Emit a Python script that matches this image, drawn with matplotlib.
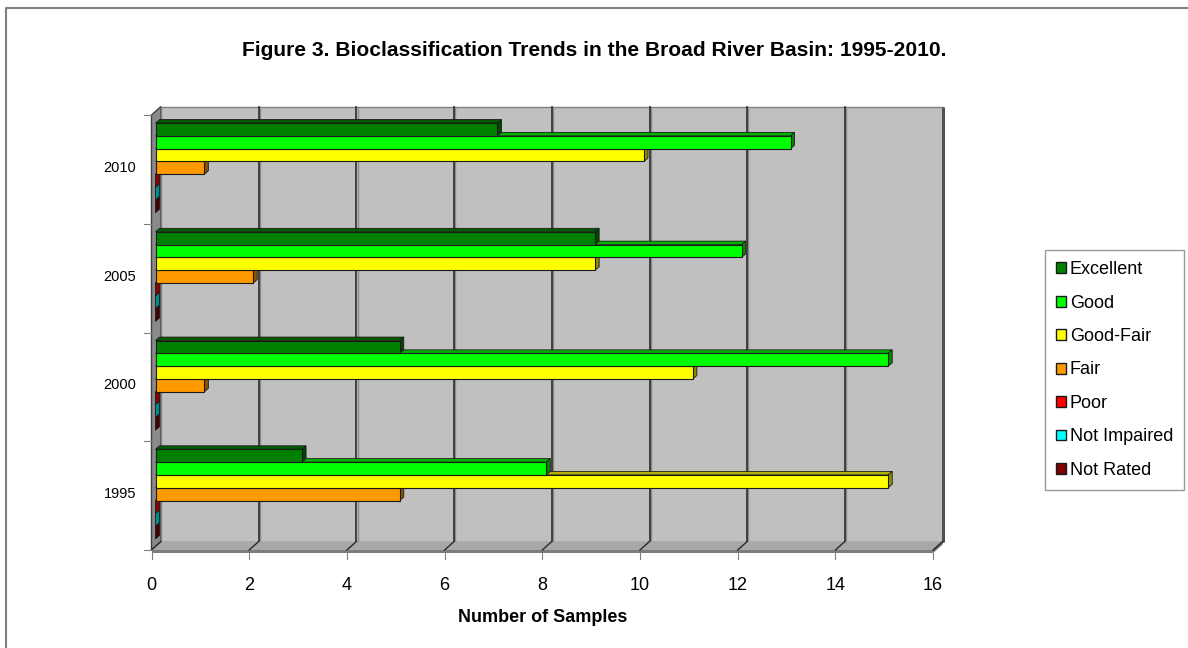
import matplotlib
matplotlib.use("Agg")
import matplotlib.pyplot as plt
from matplotlib.patches import Polygon, Rectangle, Patch
from matplotlib.lines import Line2D
from matplotlib.colors import to_rgb

# ---- data -------------------------------------------------------------
years = ["1995", "2000", "2005", "2010"]
series = ["Excellent", "Good", "Good-Fair", "Fair", "Poor", "Not Impaired", "Not Rated"]
excellent = [3, 5, 9, 7]
good = [8, 15, 12, 13]
good_fair = [15, 11, 9, 10]
fair = [5, 1, 2, 1]
poor = [0, 0, 0, 0]
not_impaired = [0, 0, 0, 0]
not_rated = [0, 0, 0, 0]
values = [excellent, good, good_fair, fair, poor, not_impaired, not_rated]
colors = ["#008000", "#00FF00", "#FFFF00", "#FF9900", "#FF0000", "#00FFFF", "#800000"]
x_ticks = [0, 2, 4, 6, 8, 10, 12, 14, 16]
x_max = 16

plt.rcParams["font.family"] = ["Liberation Sans", "DejaVu Sans"]

W, H = 1188, 648
fig = plt.figure(figsize=(W / 100, H / 100), dpi=100)
fig.patch.set_facecolor("white")

# pixel frame of the plotting box
ax_l, ax_r, ax_t, ax_b = 130, 960, 95, 565
x0_px, unit_px = 151.5, 48.85        # x=0 position and pixels per sample
front_bottom_px, cat_px = 550, 108.75  # front floor edge and pixels per year

ax = fig.add_axes([ax_l / W, 1 - ax_b / H, (ax_r - ax_l) / W, (ax_b - ax_t) / H])
ax.set_xlim((ax_l - x0_px) / unit_px, (ax_r - x0_px) / unit_px)
ax.set_ylim(-0.5 + (front_bottom_px - ax_b) / cat_px, -0.5 + (front_bottom_px - ax_t) / cat_px)
ax.axis("off")

PX = 1 / unit_px   # one pixel in x data units
PY = 1 / cat_px    # one pixel in y data units

n_cat = len(years)
y_lo, y_hi = -0.5, n_cat - 0.5
dxb, dyb = 9.5 * PX, 8.5 * PY       # depth of the walls


def shade(c, f):
    r, g, b = to_rgb(c)
    return (r * f, g * f, b * f)


# left wall
ax.add_patch(Polygon([(0, y_lo), (0, y_hi), (dxb, y_hi + dyb), (dxb, y_lo + dyb)],
                     closed=True, facecolor="#8a8a8a", edgecolor="#404040", lw=1.0, zorder=1))
# back wall
ax.add_patch(Rectangle((dxb, y_lo + dyb), x_max, y_hi - y_lo, facecolor="#C0C0C0",
                       edgecolor="#808080", lw=1.0, zorder=1))
ax.plot([x_max + dxb, x_max + dxb], [y_lo + dyb, y_hi + dyb], color="#505050", lw=2.2,
        zorder=2, solid_capstyle="butt")
# vertical grid lines on the back wall
for k in x_ticks[1:-1]:
    ax.plot([k + dxb + 1.2 * PX, k + dxb + 1.2 * PX], [y_lo + dyb, y_hi + dyb],
            color="#8a8a8a", lw=1.0, zorder=2)
    ax.plot([k + dxb, k + dxb], [y_lo + dyb, y_hi + dyb], color="#2a2a2a", lw=1.2, zorder=2)
# floor: top face and front slab
ax.add_patch(Polygon([(0, y_lo), (x_max, y_lo), (x_max + dxb, y_lo + dyb), (dxb, y_lo + dyb)],
                     closed=True, facecolor="#A8A8A8", edgecolor="none", zorder=2))
ax.add_patch(Rectangle((0, y_lo - 3 * PY), x_max, 3 * PY, facecolor="#7c7c7c",
                       edgecolor="none", zorder=2))
ax.add_patch(Polygon([(x_max, y_lo - 3 * PY), (x_max, y_lo), (x_max + dxb, y_lo + dyb),
                      (x_max + dxb, y_lo + dyb - 3 * PY)], closed=True,
                     facecolor="#6a6a6a", edgecolor="none", zorder=2))
for k in x_ticks:
    ax.plot([k, k + dxb], [y_lo, y_lo + dyb], color="#2a2a2a", lw=1.0, zorder=2)
    ax.plot([k, k], [y_lo - 3 * PY, y_lo - 9 * PY], color="#808080", lw=0.8,
            zorder=2, clip_on=False)
    ax.text(k, -0.5 + (front_bottom_px - 585) * PY, str(k), ha="center", va="center",
            fontsize=13, color="black")

# category ticks on the left
for j in range(n_cat + 1):
    yv = y_lo + j
    ax.plot([-8 * PX, 0], [yv, yv], color="#808080", lw=0.8, zorder=2, clip_on=False)
for j, yr in enumerate(years):
    ax.text(-31.5 * PX, j + 1.5 * PY, yr, ha="center", va="center", fontsize=10.5)

# 3-D bars
bar_h = 12.8 * PY
fx, fy = 4 * PX, 1.5 * PY       # bar front face offset from the front plane
ddx, ddy = 4 * PX, 3.5 * PY     # bar depth
n_ser = len(series)
for c in range(n_cat):
    for i in reversed(range(n_ser)):
        v = values[i][c]
        yc = c + fy + ((n_ser - 1) / 2 - i) * bar_h
        b, t = yc - bar_h / 2, yc + bar_h / 2
        xa, xb = fx, fx + v
        col = colors[i]
        ax.add_patch(Polygon([(xa, t), (xb, t), (xb + ddx, t + ddy), (xa + ddx, t + ddy)],
                             closed=True, facecolor=shade(col, 0.7), edgecolor="#1a1a1a",
                             lw=0.6, zorder=3))
        ax.add_patch(Polygon([(xb, b), (xb + ddx, b + ddy), (xb + ddx, t + ddy), (xb, t)],
                             closed=True, facecolor=shade(col, 0.55), edgecolor="#1a1a1a",
                             lw=0.6, zorder=3))
        if v > 0:
            ax.add_patch(Rectangle((xa, b), v, bar_h, facecolor=col, edgecolor="#1a1a1a",
                                   lw=0.8, zorder=3))

# titles
fig.text(594 / W, 1 - 51 / H,
         "Figure 3. Bioclassification Trends in the Broad River Basin: 1995-2010.",
         ha="center", va="center", fontsize=15.1, fontweight="bold")
fig.text(543 / W, 1 - 617 / H, "Number of Samples", ha="center", va="center",
         fontsize=13, fontweight="bold")

# legend
handles = [Patch(facecolor=col, edgecolor="#1a1a1a", lw=1.0) for col in colors]
leg = fig.legend(handles, series, loc="upper left",
                 bbox_to_anchor=(1045 / W, 1 - 250 / H), frameon=True, fancybox=False,
                 edgecolor="#808080", fontsize=13, handlelength=0.55, handleheight=0.55,
                 handletextpad=0.2, labelspacing=0.91, borderpad=0.62, borderaxespad=0)
leg.get_frame().set_linewidth(1.0)

# outer frame
fig.add_artist(Line2D([6 / W, 6 / W, 1], [0, 1 - 8 / H, 1 - 8 / H], color="#808080",
                      lw=1.5, transform=fig.transFigure))

fig.savefig("out.png", dpi=100, facecolor="white")
